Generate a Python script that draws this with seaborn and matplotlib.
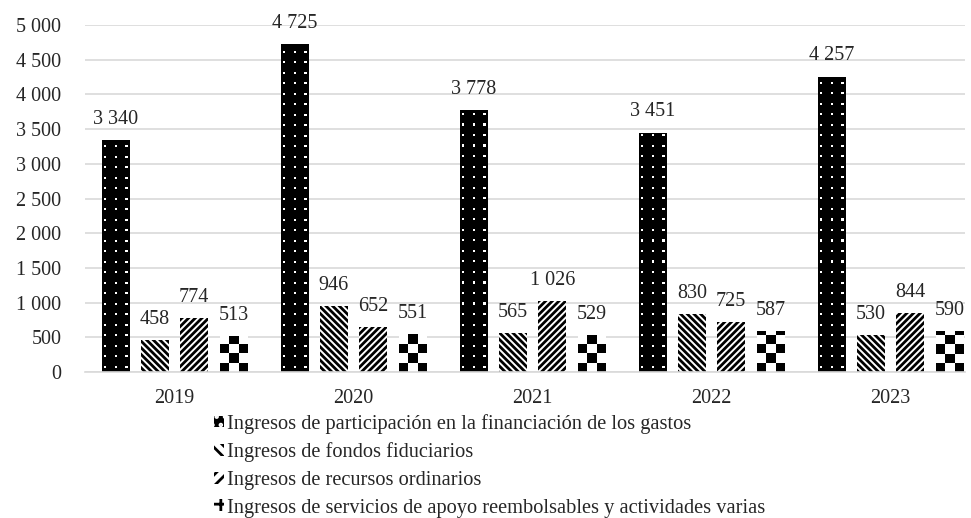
import numpy as np
import pandas as pd
import seaborn as sns
import matplotlib.pyplot as plt
from matplotlib.patches import Patch

# Data
years = ['2019', '2020', '2021', '2022', '2023']
participacion = [3340, 4725, 3778, 3451, 4257]
fiduciarios = [458, 946, 565, 830, 530]
ordinarios = [774, 652, 1026, 725, 844]
servicios = [513, 551, 529, 587, 590]
series_names = [
    'Ingresos de participación en la financiación de los gastos',
    'Ingresos de fondos fiduciarios',
    'Ingresos de recursos ordinarios',
    'Ingresos de servicios de apoyo reembolsables y actividades varias',
]
y_ticks = [0, 500, 1000, 1500, 2000, 2500, 3000, 3500, 4000, 4500, 5000]

df = pd.DataFrame({
    'year': years * 4,
    'serie': np.repeat(series_names, len(years)),
    'value': participacion + fiduciarios + ordinarios + servicios,
})

sns.set_style('white')
plt.rcParams['font.family'] = ['Liberation Serif', 'DejaVu Serif']
plt.rcParams['hatch.linewidth'] = 2.0

fig = plt.figure(figsize=(9.71, 5.18), dpi=100)
ax = fig.add_axes([85 / 971, 1 - 372 / 518, 880 / 971, 347 / 518])

sns.barplot(data=df, x='year', y='value', hue='serie', hue_order=series_names,
            palette=['black', 'white', 'white', 'white'], width=0.88, gap=0.3,
            legend=False, ax=ax, zorder=2)

styles = [
    dict(facecolor='black', edgecolor='black', hatch=None),
    dict(facecolor='white', edgecolor='black', hatch='\\' * 5),
    dict(facecolor='white', edgecolor='black', hatch='/' * 5),
    dict(facecolor='white', edgecolor='white', hatch=None),
]
for cont, st in zip(ax.containers, styles):
    for bar in cont:
        bar.set_facecolor(st['facecolor'])
        bar.set_edgecolor(st['edgecolor'])
        bar.set_hatch(st['hatch'])
        bar.set_linewidth(0)

# pattern fills drawn as images clipped to the bars
px_x = 1 / 179.0      # data units per pixel, x
px_y = 5000 / 347.0   # data units per pixel, y


def fill_pattern(bar, kind):
    x0, w, h = bar.get_x(), bar.get_width(), bar.get_height()
    if kind == 'dots':
        cell, sub = 10.5, 5
        nx = int(np.ceil(w / (cell * px_x)))
        ny = int(np.ceil(h / (cell * px_y)))
        img = np.zeros((ny * sub, nx * sub))
        img[sub // 2::sub, 1::sub] = 1
        img = img[::-1]
        ext = [x0, x0 + nx * cell * px_x, 0, ny * cell * px_y]
    else:
        cell = w / px_x / 3
        ny = int(np.ceil(h / (cell * px_y)))
        img = (np.add.outer(np.arange(ny)[::-1], np.arange(3)) % 2).astype(float)
        ext = [x0, x0 + w, 0, ny * cell * px_y]
    im = ax.imshow(img, cmap='gray', vmin=0, vmax=1, extent=ext,
                   aspect='auto', interpolation='nearest', zorder=2.5)
    im.set_clip_path(bar)


for bar in ax.containers[0]:
    fill_pattern(bar, 'dots')
for bar in ax.containers[3]:
    fill_pattern(bar, 'checker')

for cont in ax.containers:
    labels = [f'{v:,.0f}'.replace(',', ' ') for v in cont.datavalues]
    ax.bar_label(cont, labels=labels, padding=8, fontsize=14.5)

ax.set_xlim(-0.5, 4.416)
ax.set_ylim(0, 5000)
ax.set_yticks(y_ticks)
ax.set_yticklabels([f'{v:,}'.replace(',', ' ') for v in y_ticks])
ax.yaxis.grid(True, color='#d9d9d9', linewidth=1.2)
ax.set_axisbelow(True)
ax.set_xlabel('')
ax.set_ylabel('')
ax.tick_params(axis='x', length=0, pad=12, labelsize=14.5)
ax.tick_params(axis='y', length=0, pad=17, labelsize=14.5)
for side in ['left', 'right', 'top']:
    ax.spines[side].set_visible(False)
ax.spines['bottom'].set_color('#d9d9d9')
ax.spines['bottom'].set_linewidth(1.2)

handles = [
    Patch(facecolor='black', edgecolor='white', hatch='..', linewidth=0),
    Patch(facecolor='white', edgecolor='black', hatch='\\\\\\', linewidth=0),
    Patch(facecolor='white', edgecolor='black', hatch='///', linewidth=0),
    Patch(facecolor='white', edgecolor='black', hatch='++', linewidth=0),
]
fig.legend(handles, series_names, loc='upper left', bbox_to_anchor=(214 / 971, 1 - 414 / 518),
           frameon=False, fontsize=14.7, handlelength=0.5, handleheight=0.5,
           handletextpad=0.15, labelspacing=0.42, borderaxespad=0, borderpad=0)

fig.savefig('out.png', dpi=100)
